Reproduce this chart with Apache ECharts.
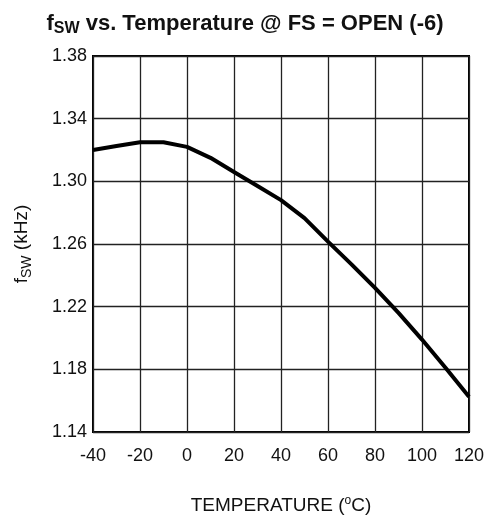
<!DOCTYPE html>
<html>
<head>
<meta charset="utf-8">
<script src="https://cdn.jsdelivr.net/npm/echarts@6/dist/echarts.min.js"></script>
<style>
  html, body { margin: 0; padding: 0; background: #fff; }
  #chart { width: 490px; height: 520px; }
</style>
</head>
<body>
<div id="chart"></div>
<script>
// fSW vs. temperature
const temperature = [-40, -30, -20, -10, 0, 10, 20, 30, 40, 50, 60, 70, 80, 90, 100, 110, 120]
const fsw = [1.320, 1.3225, 1.325, 1.325, 1.322, 1.315, 1.306, 1.297, 1.288, 1.2765, 1.2615, 1.247, 1.232, 1.216, 1.199, 1.181, 1.1625]

const xTicks = { min: -40, max: 120, interval: 20 }
const yTicks = { min: 1.14, max: 1.38, interval: 0.04 }

const font = 'Liberation Sans, Arial, Helvetica, sans-serif'

const chart = echarts.init(document.getElementById('chart'))

const option = {
  animation: false,
  title: {
    text: '{a|f}{sub|SW}{a| vs. Temperature @ FS = OPEN (-6)}',
    left: 'center',
    top: 5,
    textStyle: {
      rich: {
        a: { fontFamily: font, fontWeight: 'bold', fontSize: 22, color: '#111' },
        sub: { fontFamily: font, fontWeight: 'bold', fontSize: 16, color: '#111', padding: [11, 0, 0, 0] }
      }
    }
  },
  grid: {
    left: 93,
    right: 21,
    top: 56,
    bottom: 88,
    show: true,
    borderColor: '#000',
    borderWidth: 2,
    backgroundColor: 'transparent'
  },
  xAxis: {
    type: 'value',
    min: xTicks.min,
    max: xTicks.max,
    interval: xTicks.interval,
    name: 'TEMPERATURE ({sup|o}C)',
    nameLocation: 'middle',
    nameGap: 63,
    nameTextStyle: {
      fontFamily: font, fontSize: 19, color: '#111',
      rich: { sup: { fontFamily: font, fontSize: 12, color: '#111', padding: [0, 0, 9, 0] } }
    },
    axisLine: { show: false },
    axisTick: { show: false },
    axisLabel: { margin: 15, fontFamily: font, fontSize: 18, color: '#111' },
    splitLine: { show: true, lineStyle: { color: '#222', width: 1.3 } }
  },
  yAxis: {
    type: 'value',
    min: yTicks.min,
    max: yTicks.max,
    interval: yTicks.interval,
    name: '{a|f}{sub|SW}{a| (kHz)}',
    nameLocation: 'middle',
    nameGap: 59,
    nameRotate: 90,
    nameTextStyle: {
      rich: {
        a: { fontFamily: font, fontSize: 19, color: '#111' },
        sub: { fontFamily: font, fontSize: 14, color: '#111', padding: [10, 0, 0, 0] }
      }
    },
    axisLine: { show: false },
    axisTick: { show: false },
    axisLabel: {
      margin: 6,
      fontFamily: font,
      fontSize: 18,
      color: '#111',
      formatter: (v) => v.toFixed(2)
    },
    splitLine: { show: true, lineStyle: { color: '#222', width: 1.3 } }
  },
  series: [
    {
      type: 'line',
      data: temperature.map((t, i) => [t, fsw[i]]),
      showSymbol: false,
      smooth: false,
      lineStyle: { color: '#000', width: 4 }
    }
  ]
}

chart.setOption(option)
</script>
</body>
</html>
